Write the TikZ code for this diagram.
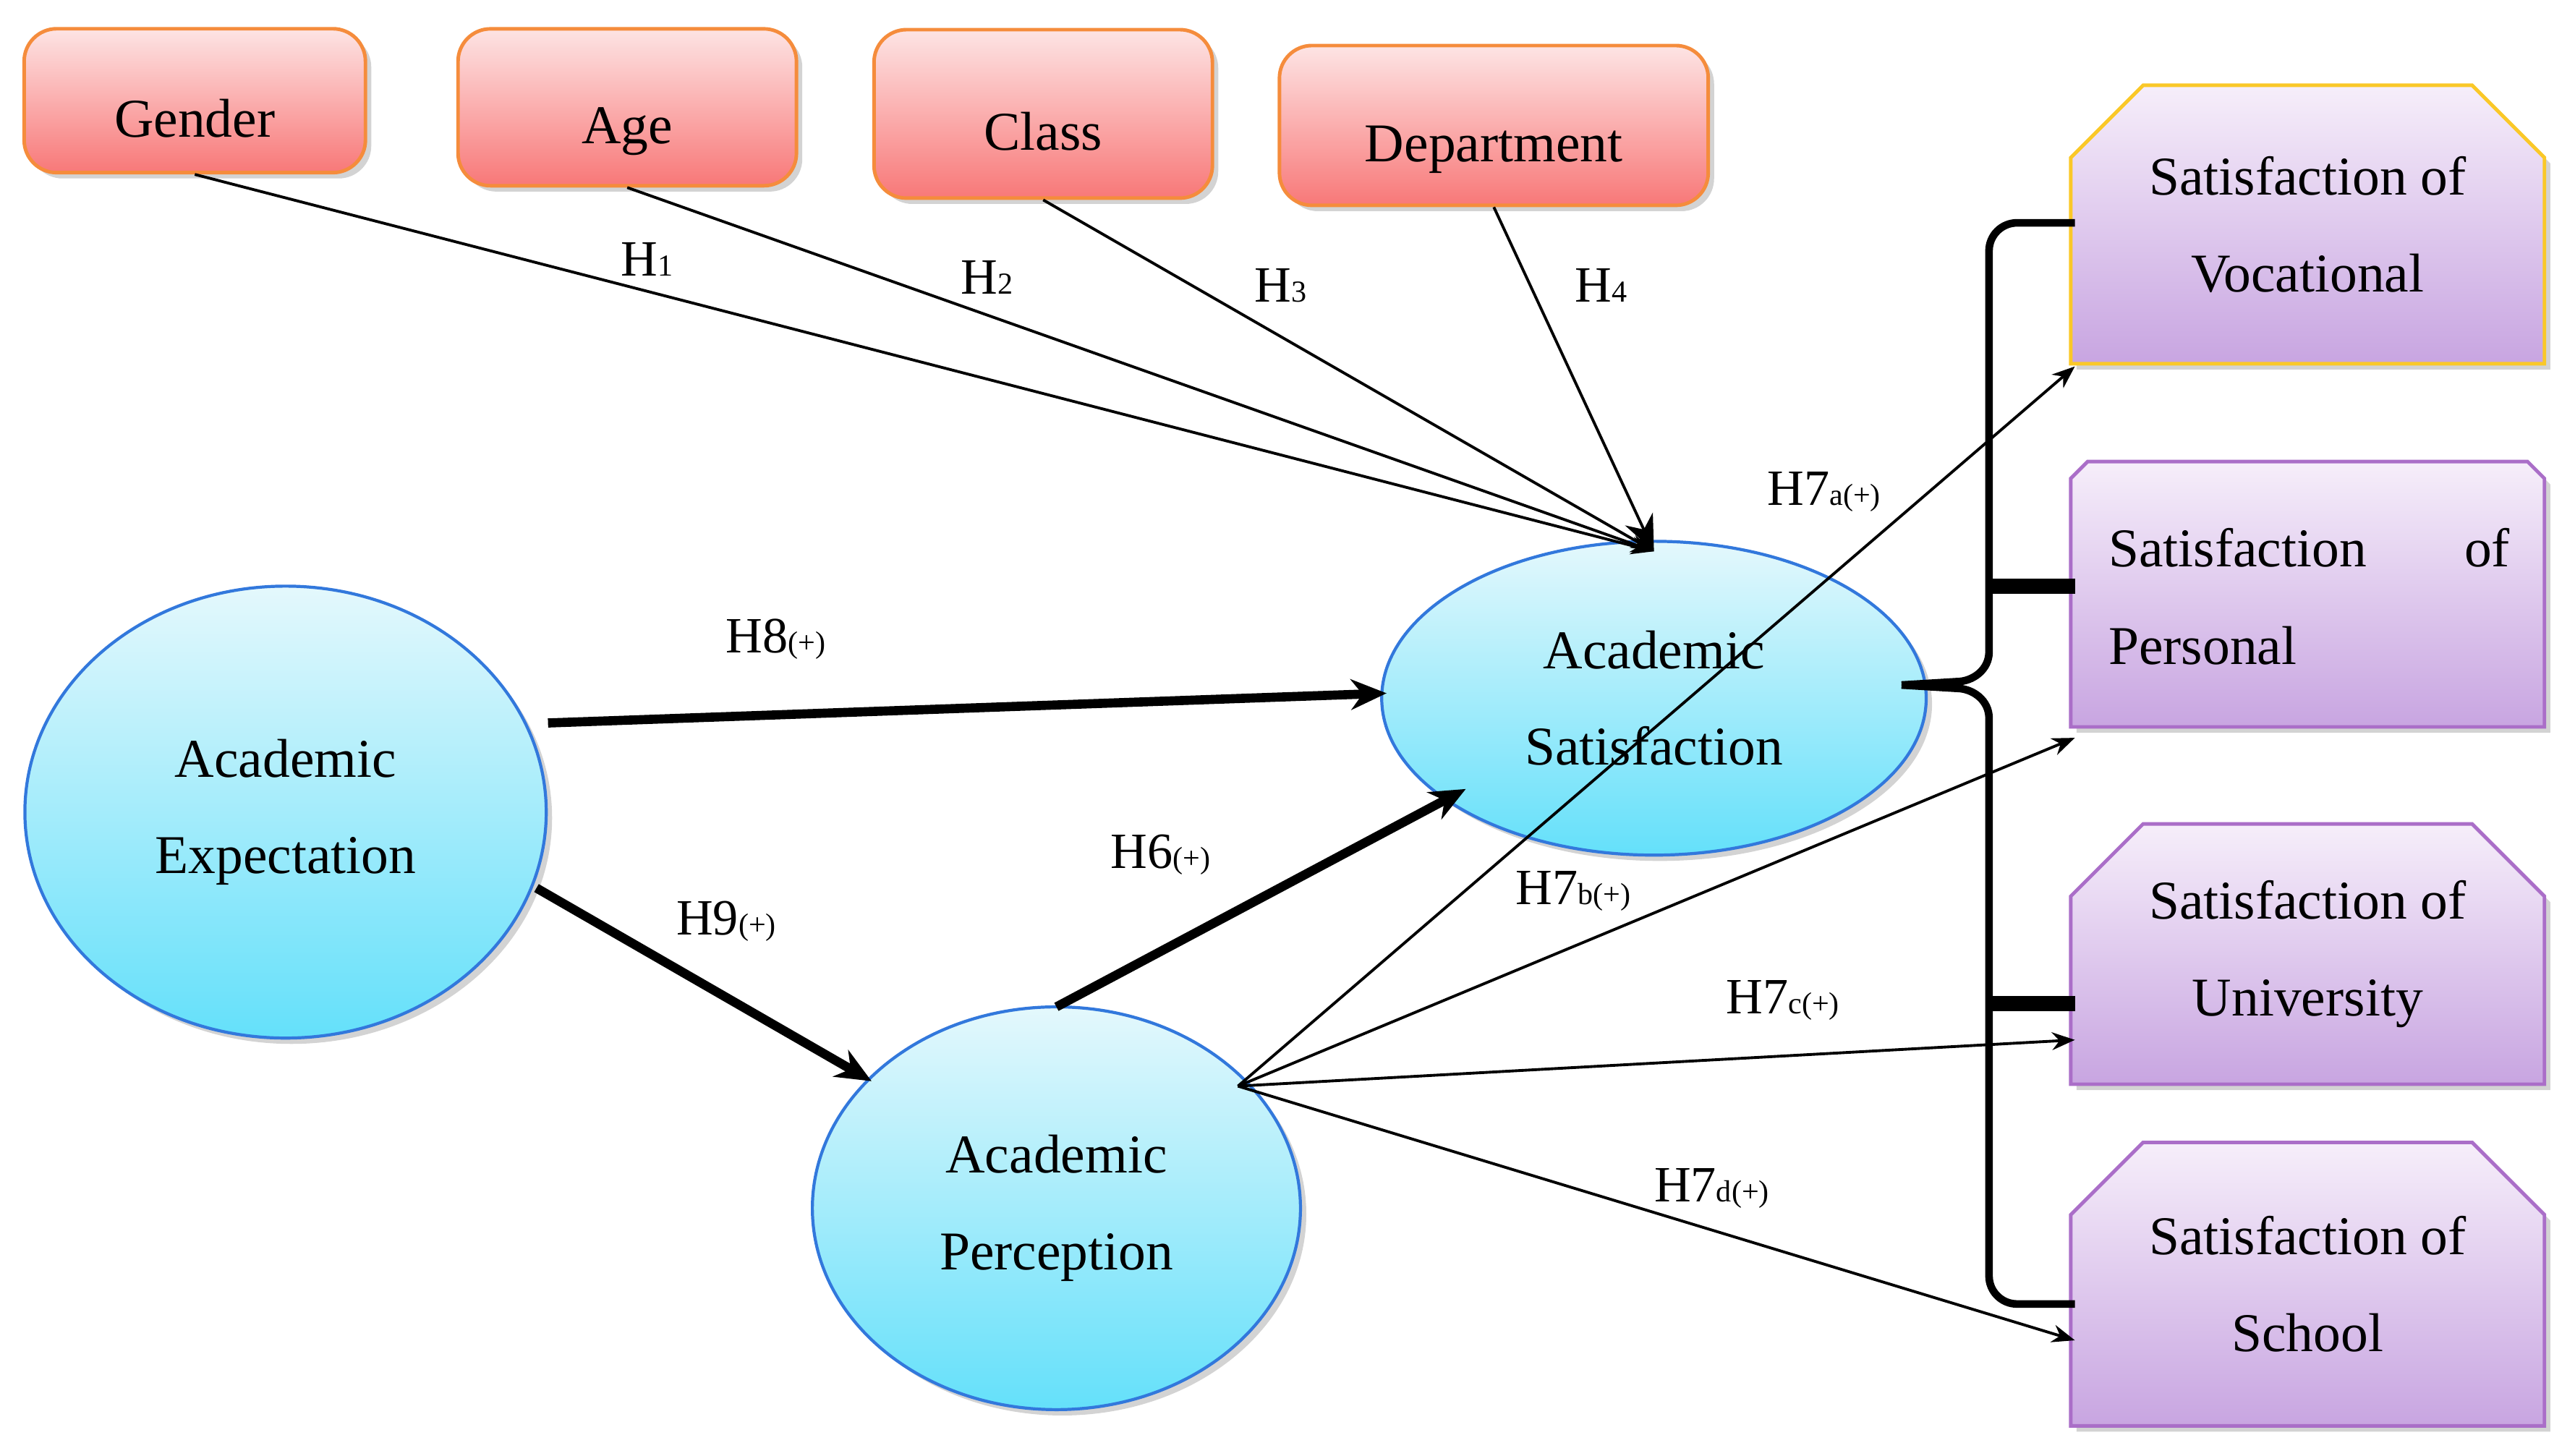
\documentclass[tikz,border=0pt]{standalone}
\usepackage{fontspec}
\setmainfont{Liberation Serif}
\usetikzlibrary{shapes.misc,shapes.geometric,arrows.meta,shadows}
\begin{document}
\newcommand\hs[1]{{\fontsize{12}{12}\selectfont #1}}
\newcommand\dn[1]{\raisebox{-0.5cm}[0pt][0pt]{#1}}
\begin{tikzpicture}[x=0.02282cm,y=-0.02282cm,
 txt/.style={font=\fontsize{21.5}{38}\selectfont, align=center},
 lab/.style={font=\fontsize{20}{22}\selectfont, inner sep=0pt},
 red/.style={rounded corners=0.45cm, draw={rgb,255:red,245;green,140;blue,60}, line width=1.4pt,
   top color={rgb,255:red,253;green,228;blue,228}, bottom color={rgb,255:red,248;green,120;blue,120},
   drop shadow={opacity=0.35}, txt},
 ell/.style={ellipse, draw={rgb,255:red,50;green,120;blue,220}, line width=1.2pt,
   top color={rgb,255:red,228;green,248;blue,252}, bottom color={rgb,255:red,100;green,224;blue,250},
   drop shadow={opacity=0.35}, txt},
 pur/.style={chamfered rectangle, chamfered rectangle corners={north west,north east},
   chamfered rectangle xsep=0.5cm, chamfered rectangle ysep=0.5cm,
   draw={rgb,255:red,170;green,110;blue,200}, line width=1.4pt,
   top color={rgb,255:red,246;green,238;blue,250}, bottom color={rgb,255:red,200;green,165;blue,225},
   minimum width=6.55cm, drop shadow={opacity=0.35}, txt},
 thin/.style={line width=1.1pt, -{Stealth[length=9pt,width=7pt]}},
 thick/.style={line width=3.6pt, -{Stealth[length=14pt,width=12pt]}}]
\useasboundingbox (0,0) rectangle (1560,882);
% top boxes
\node[red, minimum width=4.72cm, minimum height=1.99cm] (gen) at (118,61) {\dn{Gender}};
\node[red, minimum width=4.68cm, minimum height=2.17cm] (age) at (380,65) {\dn{Age}};
\node[red, minimum width=4.68cm, minimum height=2.33cm] (cls) at (632,69) {\dn{Class}};
\node[red, minimum width=5.93cm, minimum height=2.21cm] (dep) at (905,76) {\dn{Department}};
% right boxes
\node[pur, minimum height=3.85cm, draw={rgb,255:red,250;green,200;blue,40}] (voc) at (1398,136) {Satisfaction of\\Vocational};
\node[pur, minimum height=3.67cm] (per) at (1398,360) {};
\node[txt, anchor=west] (perA) at (1272,332) {Satisfaction};
\node[txt, anchor=east] (perB) at (1526,332) {of};
\node[txt, anchor=west] (perC) at (1272,391) {Personal};
\node[pur, minimum height=3.6cm] (uni) at (1398,578) {Satisfaction of\\University};
\node[pur, minimum height=3.92cm] (sch) at (1398,778) {Satisfaction of\\School};
% ellipses
\node[ell, minimum width=7.21cm, minimum height=6.25cm] (ae) at (173,492) {Academic\\Expectation};
\node[ell, minimum width=7.53cm, minimum height=4.34cm] (as) at (1002,423) {Academic\\Satisfaction};
\node[ell, minimum width=6.75cm, minimum height=5.57cm] (ap) at (640,732) {Academic\\Perception};
% coordinates
\coordinate (asT) at (1002,334);
\coordinate (apR) at (750,658);
\coordinate (v1) at (1257,222);
\coordinate (p1) at (1257,447);
\coordinate (u1) at (1257,630);
\coordinate (s1) at (1257,812);
% H1-H4
\draw[thin] (gen.south) -- (asT);
\draw[thin] (age.south) -- (asT);
\draw[thin] (cls.south) -- (asT);
\draw[thin,-{Stealth[length=14pt,width=12pt]}] (dep.south) -- (asT);
\node[lab] (h1) at (392,157) {H\hs{1}};
\node[lab] (h2) at (598,168) {H\hs{2}};
\node[lab] (h3) at (776,173) {H\hs{3}};
\node[lab] (h4) at (970,173) {H\hs{4}};
% thick
\coordinate (a8) at (332,438); \coordinate (b8) at (840,420);
\draw[thick] (a8) -- (b8);
\coordinate (a9) at (325,538); \coordinate (b9) at (528,655);
\draw[thick] (a9) -- (b9);
\coordinate (a6) at (640,610); \coordinate (b6) at (888,478);
\draw[thick] (a6) -- (b6);
\node[lab] (h8) at (470,387) {H8\hs{(+)}};
\node[lab] (h9) at (440,558) {H9\hs{(+)}};
\node[lab] (h6) at (703,518) {H6\hs{(+)}};
% H7
\draw[thin] (apR) -- (v1);
\draw[thin] (apR) -- (p1);
\draw[thin] (apR) -- (u1);
\draw[thin] (apR) -- (s1);
\node[lab] (h7a) at (1105,298) {H7\hs{a(+)}};
\node[lab] (h7b) at (953,540) {H7\hs{b(+)}};
\node[lab] (h7c) at (1080,606) {H7\hs{c(+)}};
\node[lab] (h7d) at (1037,720) {H7\hs{d(+)}};
% brace
\draw[line width=3pt] (1257,135) -- (1222,135) to[out=180,in=90] (1205,152) -- (1205,395)
  to[out=-90,in=0] (1185,413) -- (1152,415);
\draw[line width=3pt] (1152,415) -- (1185,417) to[out=0,in=90] (1205,435) -- (1205,773)
  to[out=-90,in=180] (1222,790) -- (1257,790);
\draw[line width=6pt] (1205,355) -- (1257,355);
\draw[line width=6pt] (1205,608) -- (1257,608);
\end{tikzpicture}
\end{document}
